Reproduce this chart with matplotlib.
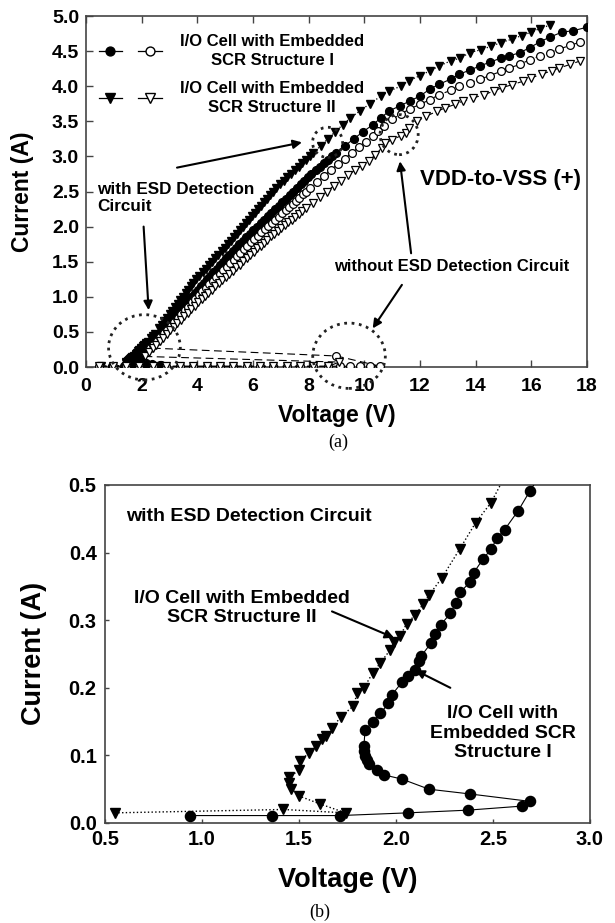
import matplotlib
matplotlib.use('Agg')
import matplotlib.pyplot as plt
from matplotlib.patches import Ellipse
from matplotlib.lines import Line2D
from matplotlib.legend_handler import HandlerTuple

plt.rcParams['font.family'] = ['Liberation Sans', 'DejaVu Sans']
plt.rcParams['font.weight'] = 'bold'

# ---------------- data (voltage V, current A) ----------------
# Structure I, with ESD detection circuit (filled circles)
s1_on = [(0.94, 0.011), (1.36, 0.011), (1.71, 0.011), (2.06, 0.015), (2.37, 0.019), (2.65, 0.025),
         (2.69, 0.032), (2.38, 0.043), (2.17, 0.050), (2.03, 0.065), (1.94, 0.071), (1.90, 0.079),
         (1.86, 0.087), (1.85, 0.093), (1.84, 0.099), (1.835, 0.106), (1.835, 0.114), (1.84, 0.137),
         (1.88, 0.150), (1.92, 0.162), (1.96, 0.177), (1.98, 0.190), (2.03, 0.208), (2.06, 0.218),
         (2.10, 0.226), (2.12, 0.240), (2.13, 0.247), (2.18, 0.266), (2.20, 0.280), (2.23, 0.293),
         (2.28, 0.310), (2.31, 0.326), (2.33, 0.341), (2.38, 0.356), (2.40, 0.370), (2.45, 0.391),
         (2.49, 0.405), (2.52, 0.421), (2.56, 0.434), (2.63, 0.462), (2.69, 0.491),
         (2.82, 0.55), (2.92, 0.60), (3.02, 0.65), (3.13, 0.70), (3.24, 0.75), (3.35, 0.80),
         (3.46, 0.85), (3.57, 0.90), (3.68, 0.95), (3.79, 1.00), (3.90, 1.05), (4.01, 1.10),
         (4.12, 1.15), (4.23, 1.20), (4.35, 1.25), (4.46, 1.30), (4.58, 1.35), (4.69, 1.40),
         (4.80, 1.45), (4.91, 1.50), (5.03, 1.55), (5.15, 1.60), (5.27, 1.65), (5.39, 1.70),
         (5.51, 1.75), (5.63, 1.80), (5.76, 1.85), (5.88, 1.90), (6.01, 1.95), (6.14, 2.00),
         (6.27, 2.05), (6.40, 2.10), (6.53, 2.15), (6.66, 2.20), (6.79, 2.25), (6.92, 2.30),
         (7.05, 2.35), (7.18, 2.40), (7.32, 2.45), (7.45, 2.50), (7.58, 2.55), (7.71, 2.60),
         (7.85, 2.65), (7.97, 2.70), (8.10, 2.75), (8.25, 2.80), (8.40, 2.85), (8.54, 2.90),
         (8.68, 2.95), (8.83, 3.00), (8.98, 3.05), (9.30, 3.15), (9.62, 3.25), (9.95, 3.35),
         (10.30, 3.45), (10.60, 3.55), (10.90, 3.65), (11.28, 3.72), (11.64, 3.79), (12.00, 3.86),
         (12.36, 3.96), (12.70, 4.03), (13.10, 4.10), (13.40, 4.17), (13.80, 4.23), (14.16, 4.29),
         (14.50, 4.34), (14.90, 4.40), (15.20, 4.43), (15.60, 4.48), (15.95, 4.55), (16.30, 4.63),
         (16.67, 4.70), (17.10, 4.77), (17.50, 4.79), (18.00, 4.84)]

# Structure II, with ESD detection circuit (filled triangles)
s2_on = [(0.55, 0.015), (1.42, 0.020), (1.74, 0.015), (1.61, 0.028), (1.50, 0.040), (1.46, 0.051),
         (1.45, 0.059), (1.45, 0.068), (1.50, 0.078), (1.505, 0.092), (1.55, 0.103), (1.59, 0.114),
         (1.62, 0.125), (1.64, 0.129), (1.67, 0.140), (1.715, 0.157), (1.78, 0.173), (1.80, 0.192),
         (1.835, 0.200), (1.88, 0.222), (1.92, 0.237), (1.97, 0.256), (1.99, 0.268), (2.02, 0.276),
         (2.055, 0.295), (2.10, 0.308), (2.14, 0.324), (2.17, 0.337), (2.235, 0.362), (2.33, 0.406),
         (2.41, 0.444), (2.49, 0.474),
         (2.63, 0.55), (2.72, 0.60), (2.82, 0.65), (2.91, 0.70), (3.01, 0.75), (3.10, 0.80),
         (3.20, 0.85), (3.29, 0.90), (3.39, 0.95), (3.48, 1.00), (3.58, 1.05), (3.67, 1.10),
         (3.77, 1.15), (3.86, 1.20), (3.96, 1.25), (4.07, 1.30), (4.19, 1.35), (4.30, 1.40),
         (4.42, 1.45), (4.53, 1.50), (4.64, 1.55), (4.75, 1.60), (4.87, 1.65), (4.98, 1.70),
         (5.10, 1.75), (5.21, 1.80), (5.33, 1.85), (5.43, 1.90), (5.54, 1.95), (5.64, 2.00),
         (5.75, 2.05), (5.86, 2.10), (5.97, 2.15), (6.07, 2.20), (6.18, 2.25), (6.29, 2.30),
         (6.40, 2.35), (6.50, 2.40), (6.61, 2.45), (6.72, 2.50), (6.84, 2.55), (6.97, 2.60),
         (7.10, 2.65), (7.23, 2.70), (7.37, 2.75), (7.50, 2.80), (7.64, 2.85), (7.77, 2.90),
         (7.90, 2.95), (8.03, 3.00), (8.17, 3.05), (8.43, 3.15), (8.69, 3.25), (8.95, 3.35),
         (9.22, 3.45), (9.50, 3.55), (9.85, 3.65), (10.20, 3.75), (10.60, 3.86), (10.90, 3.93),
         (11.30, 4.00), (11.60, 4.08), (12.00, 4.15), (12.36, 4.22), (12.70, 4.29), (13.10, 4.36),
         (13.44, 4.40), (13.80, 4.48), (14.20, 4.52), (14.56, 4.57), (14.90, 4.62), (15.30, 4.67),
         (15.65, 4.72), (16.00, 4.77), (16.30, 4.82), (16.67, 4.87)]

# Structure I, without ESD detection circuit (open circles)
s1_off = [(0.48, 0.010), (0.96, 0.010), (1.44, 0.010), (1.92, 0.010), (2.39, 0.010), (2.87, 0.010),
          (3.38, 0.010), (3.86, 0.010), (4.34, 0.010), (4.81, 0.010), (5.29, 0.010), (5.77, 0.010),
          (6.25, 0.010), (6.73, 0.010), (7.21, 0.010), (7.69, 0.010), (8.17, 0.010), (8.71, 0.010),
          (9.13, 0.012), (9.49, 0.010), (9.85, 0.010), (10.20, 0.010), (10.56, 0.012), (9.00, 0.157),
          (2.30, 0.27), (2.42, 0.32), (2.55, 0.37), (2.67, 0.43), (2.80, 0.48), (2.92, 0.53),
          (3.05, 0.59), (3.17, 0.64), (3.30, 0.70), (3.42, 0.75), (3.55, 0.81), (3.67, 0.86),
          (3.80, 0.92), (3.92, 0.97), (4.05, 1.03), (4.17, 1.08), (4.30, 1.13), (4.42, 1.18),
          (4.55, 1.23), (4.67, 1.28), (4.80, 1.33), (4.92, 1.38), (5.05, 1.43), (5.17, 1.48),
          (5.30, 1.53), (5.42, 1.58), (5.55, 1.63), (5.67, 1.68), (5.80, 1.73), (5.92, 1.78),
          (6.05, 1.83), (6.17, 1.87), (6.30, 1.92), (6.42, 1.96), (6.55, 2.01), (6.67, 2.05),
          (6.80, 2.10), (6.92, 2.14), (7.05, 2.19), (7.17, 2.23), (7.30, 2.28), (7.42, 2.32),
          (7.55, 2.37), (7.67, 2.41), (7.80, 2.46), (7.92, 2.50), (8.05, 2.55), (8.30, 2.63),
          (8.55, 2.72), (8.80, 2.81), (9.05, 2.89), (9.30, 2.97), (9.55, 3.05), (9.80, 3.13),
          (10.05, 3.21), (10.30, 3.29), (10.50, 3.36), (10.70, 3.43), (11.00, 3.53), (11.30, 3.60),
          (11.64, 3.68), (12.00, 3.74), (12.36, 3.81), (12.70, 3.88), (13.10, 3.94), (13.40, 4.00),
          (13.80, 4.05), (14.16, 4.10), (14.50, 4.15), (14.90, 4.21), (15.20, 4.26), (15.60, 4.31),
          (15.95, 4.38), (16.30, 4.43), (16.67, 4.48), (17.00, 4.53), (17.40, 4.58), (17.75, 4.63)]

# Structure II, without ESD detection circuit (open triangles)
s2_off = [(0.48, 0.010), (0.96, 0.010), (1.44, 0.010), (1.92, 0.010), (2.39, 0.010), (2.87, 0.010),
          (3.38, 0.010), (3.86, 0.010), (4.34, 0.010), (4.81, 0.010), (5.29, 0.010), (5.77, 0.010),
          (6.25, 0.010), (6.73, 0.010), (7.21, 0.010), (7.69, 0.010), (8.17, 0.010), (8.71, 0.010),
          (9.10, 0.070),
          (2.12, 0.15), (2.26, 0.21), (2.40, 0.27), (2.52, 0.32), (2.65, 0.37), (2.77, 0.42),
          (2.90, 0.47), (3.02, 0.52), (3.15, 0.57), (3.27, 0.62), (3.40, 0.67), (3.52, 0.72),
          (3.65, 0.77), (3.77, 0.82), (3.90, 0.87), (4.02, 0.92), (4.15, 0.97), (4.27, 1.01),
          (4.40, 1.06), (4.52, 1.10), (4.65, 1.15), (4.77, 1.19), (4.90, 1.24), (5.02, 1.28),
          (5.15, 1.33), (5.27, 1.37), (5.40, 1.42), (5.52, 1.46), (5.65, 1.51), (5.77, 1.55),
          (5.90, 1.60), (6.02, 1.64), (6.15, 1.69), (6.27, 1.73), (6.40, 1.77), (6.52, 1.81),
          (6.65, 1.86), (6.77, 1.90), (6.90, 1.94), (7.02, 1.98), (7.15, 2.02), (7.27, 2.06),
          (7.40, 2.10), (7.52, 2.14), (7.65, 2.18), (7.77, 2.22), (7.90, 2.26), (8.15, 2.34),
          (8.40, 2.42), (8.65, 2.50), (8.90, 2.58), (9.15, 2.65), (9.40, 2.73), (9.65, 2.80),
          (9.90, 2.87), (10.15, 2.94), (10.40, 3.02), (10.62, 3.12), (10.76, 3.19), (11.00, 3.24),
          (11.30, 3.29), (11.50, 3.34), (11.60, 3.41), (11.90, 3.50), (12.20, 3.57), (12.60, 3.64),
          (12.90, 3.69), (13.25, 3.74), (13.55, 3.79), (13.90, 3.83), (14.30, 3.88), (14.65, 3.93),
          (14.95, 3.98), (15.30, 4.02), (15.70, 4.07), (16.00, 4.12), (16.37, 4.17), (16.73, 4.22),
          (17.00, 4.26), (17.40, 4.31), (17.75, 4.36)]

legend_labels = ['I/O Cell with Embedded\nSCR Structure I', 'I/O Cell with Embedded\nSCR Structure II']
top_xticks = [0, 2, 4, 6, 8, 10, 12, 14, 16, 18]
top_yticks = [0.0, 0.5, 1.0, 1.5, 2.0, 2.5, 3.0, 3.5, 4.0, 4.5, 5.0]
bot_xticks = [0.5, 1.0, 1.5, 2.0, 2.5, 3.0]
bot_yticks = [0.0, 0.1, 0.2, 0.3, 0.4, 0.5]


def xs(series):
    return [p[0] for p in series]


def ys(series):
    return [p[1] for p in series]


# ---------------- figure ----------------
fig = plt.figure(figsize=(6.15, 9.23), dpi=100)
ax1 = fig.add_axes([86/615, 1-367/923, 501/615, 351/923])
ax2 = fig.add_axes([105/615, 1-823/923, 485/615, 338/923])

spine_col = '#444444'
for ax in (ax1, ax2):
    for s in ax.spines.values():
        s.set_color(spine_col)
        s.set_linewidth(1.2)

# ---- top panel ----
ms1 = 5.6
ax1.plot(xs(s1_on), ys(s1_on), '-', color='black', lw=0.8, marker='o', ms=ms1,
         mfc='black', mec='black', zorder=3)
ax1.plot(xs(s2_on), ys(s2_on), ':', color='black', lw=0.9, marker='v', ms=ms1+0.6,
         mfc='black', mec='black', zorder=3)
ax1.plot(xs(s1_off), ys(s1_off), '--', color='black', lw=0.8, dashes=(7, 4), marker='o', ms=ms1,
         mfc='white', mec='black', mew=0.9, zorder=4)
ax1.plot(xs(s2_off), ys(s2_off), '--', color='black', lw=0.8, dashes=(7, 4), marker='v', ms=ms1+0.6,
         mfc='white', mec='black', mew=0.9, zorder=4)

ax1.set_xlim(0, 18)
ax1.set_ylim(0, 5.0)
ax1.set_xticks(top_xticks)
ax1.set_yticks(top_yticks)
ax1.set_yticklabels(['%.1f' % t for t in top_yticks])
ax1.tick_params(direction='in', top=True, right=False, length=5, width=1, colors=spine_col,
                labelcolor='black', labelsize=14)
ax1.tick_params(axis='x', pad=8)
ax1.tick_params(axis='y', pad=5)
ax1.set_xlabel('Voltage (V)', fontsize=16.5, fontweight='bold')
ax1.set_ylabel('Current (A)', fontsize=16.5, fontweight='bold')
ax1.xaxis.set_label_coords(0.5, -0.105)
ax1.yaxis.set_label_coords(-0.103, 0.5)

# legend
h1 = (Line2D([], [], color='black', lw=0.9, marker='o', ms=ms1+0.8, mfc='black', mec='black'),
      Line2D([], [], color='black', lw=0.9, marker='o', ms=ms1+0.8, mfc='white', mec='black'))
h2 = (Line2D([], [], color='black', lw=0.9, marker='v', ms=ms1+1.2, mfc='black', mec='black'),
      Line2D([], [], color='black', lw=0.9, marker='v', ms=ms1+1.2, mfc='white', mec='black'))
leg = ax1.legend([h1, h2], legend_labels, handler_map={tuple: HandlerTuple(ndivide=None, pad=0.95)},
                 loc='upper left', bbox_to_anchor=(0.025, 0.948), frameon=False, fontsize=12,
                 handlelength=3.8, handletextpad=1.1, labelspacing=0.8, borderaxespad=0,
                 borderpad=0)
for t in leg.get_texts():
    t.set_multialignment('center')
    t.set_fontweight('bold')
    t.set_linespacing(1.3)

ax1.text(0.4, 2.41, 'with ESD Detection\nCircuit', ha='left', va='center', fontsize=12.3,
         fontweight='bold', linespacing=1.2)
ax1.text(8.9, 1.43, 'without ESD Detection Circuit', ha='left', va='center', fontsize=12,
         fontweight='bold')
ax1.text(12.0, 2.67, 'VDD-to-VSS (+)', ha='left', va='center', fontsize=16, fontweight='bold')

ell_kw = dict(fill=False, ls=':', lw=2.0, ec='#222222', clip_on=False, zorder=6)
for (cx, cy, w, h) in [(8.68, 3.20, 1.08, 0.43), (11.25, 3.31, 1.37, 0.57),
                       (2.10, 0.28, 2.58, 0.93), (9.45, 0.16, 2.61, 0.93)]:
    ax1.add_patch(Ellipse((cx, cy), w, h, **ell_kw))

arr_kw = dict(arrowstyle='-|>', lw=1.5, color='black', mutation_scale=13, shrinkA=0, shrinkB=0)
for (tail, head) in [((3.27, 2.84), (7.76, 3.20)), ((2.07, 2.00), (2.25, 0.81)),
                     ((11.68, 1.62), (11.28, 2.93)), ((11.35, 1.17), (10.30, 0.55))]:
    ax1.annotate('', xy=head, xytext=tail, arrowprops=arr_kw, zorder=7)

# ---- bottom panel ----
ms2 = 7.3
ax2.plot(xs(s1_on), ys(s1_on), '-', color='black', lw=0.8, marker='o', ms=ms2,
         mfc='black', mec='black', zorder=3)
ax2.plot(xs(s2_on), ys(s2_on), ':', color='black', lw=1.0, marker='v', ms=ms2+0.5,
         mfc='black', mec='black', zorder=3)
ax2.set_xlim(0.5, 3.0)
ax2.set_ylim(0, 0.5)
ax2.set_xticks(bot_xticks)
ax2.set_xticklabels(['%.1f' % t for t in bot_xticks])
ax2.set_yticks(bot_yticks)
ax2.set_yticklabels(['%.1f' % t for t in bot_yticks])
ax2.tick_params(direction='in', length=3, width=1, colors=spine_col, labelcolor='black',
                labelsize=14.5)
ax2.tick_params(axis='x', pad=5)
ax2.tick_params(axis='y', pad=6)
ax2.set_xlabel('Voltage (V)', fontsize=19.5, fontweight='bold')
ax2.set_ylabel('Current (A)', fontsize=19.5, fontweight='bold')
ax2.xaxis.set_label_coords(0.5, -0.13)
ax2.yaxis.set_label_coords(-0.12, 0.503)

ax2.text(0.61, 0.454, 'with ESD Detection Circuit', ha='left', va='center', fontsize=14,
         fontweight='bold')
ax2.text(1.207, 0.318, 'I/O Cell with Embedded\nSCR Structure II', ha='center', va='center',
         multialignment='center', fontsize=14, fontweight='bold', linespacing=1.2)
ax2.text(2.549, 0.133, 'I/O Cell with\nEmbedded SCR\nStructure I', ha='center', va='center',
         multialignment='center', fontsize=14, fontweight='bold', linespacing=1.2)
for (tail, head) in [((1.67, 0.313), (1.99, 0.274)), ((2.28, 0.200), (2.10, 0.226))]:
    ax2.annotate('', xy=head, xytext=tail, arrowprops=arr_kw, zorder=7)

fig.text(338/615, 1-442/923, '(a)', ha='center', va='center', fontsize=13,
         family=['Liberation Serif', 'DejaVu Serif'], fontweight='normal')
fig.text(320/615, 1-912/923, '(b)', ha='center', va='center', fontsize=13,
         family=['Liberation Serif', 'DejaVu Serif'], fontweight='normal')

fig.savefig('out.png', dpi=100)
